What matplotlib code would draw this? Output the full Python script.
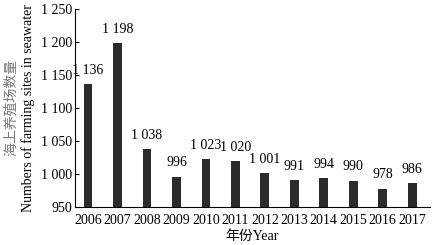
import matplotlib
matplotlib.use("Agg")
import matplotlib.pyplot as plt
import numpy as np

years = ["2006", "2007", "2008", "2009", "2010", "2011", "2012", "2013", "2014", "2015", "2016", "2017"]
values = [1136, 1198, 1038, 996, 1023, 1020, 1001, 991, 994, 990, 978, 986]
yticks = [950, 1000, 1050, 1100, 1150, 1200, 1250]

def fmt(v):
    s = f"{v:,}".replace(",", " ")
    return s

plt.rcParams['font.family'] = ['Liberation Serif', 'Noto Sans CJK SC']
fig = plt.figure(figsize=(4.4, 2.45), dpi=100)
ax = fig.add_axes([0.170, 0.155, 0.807, 0.808])
x = np.arange(len(years))
ax.bar(x, [v - 950 for v in values], bottom=950, width=0.3, color="#2b2b2b")
for xi, v in zip(x, values):
    ax.text(xi, v + 11, fmt(v), ha="center", va="bottom", fontsize=10)
ax.set_xlim(-0.45, 11.6)
ax.set_ylim(950, 1250)
ax.set_yticks(yticks)
ax.set_yticklabels([fmt(t) for t in yticks], fontsize=10)
ax.set_xticks(x)
ax.set_xticklabels(years, fontsize=10)
ax.tick_params(axis="y", direction="in", length=3, pad=2)
ax.tick_params(axis="x", length=0, pad=5)
for s in ["top", "right"]:
    ax.spines[s].set_visible(False)
ax.set_xlabel("年份Year", fontsize=10, labelpad=2, family=['Liberation Serif', 'Noto Sans CJK SC'])
fig.text(0.025, 0.56, "海上养殖场数量", rotation=90, ha="center", va="center", fontsize=10,
         color="#777777", family=['Noto Sans CJK SC'])
fig.text(0.065, 0.56, "Numbers of farming sites in seawater", rotation=90, ha="center", va="center", fontsize=10)
fig.savefig("out.png", dpi=100)
